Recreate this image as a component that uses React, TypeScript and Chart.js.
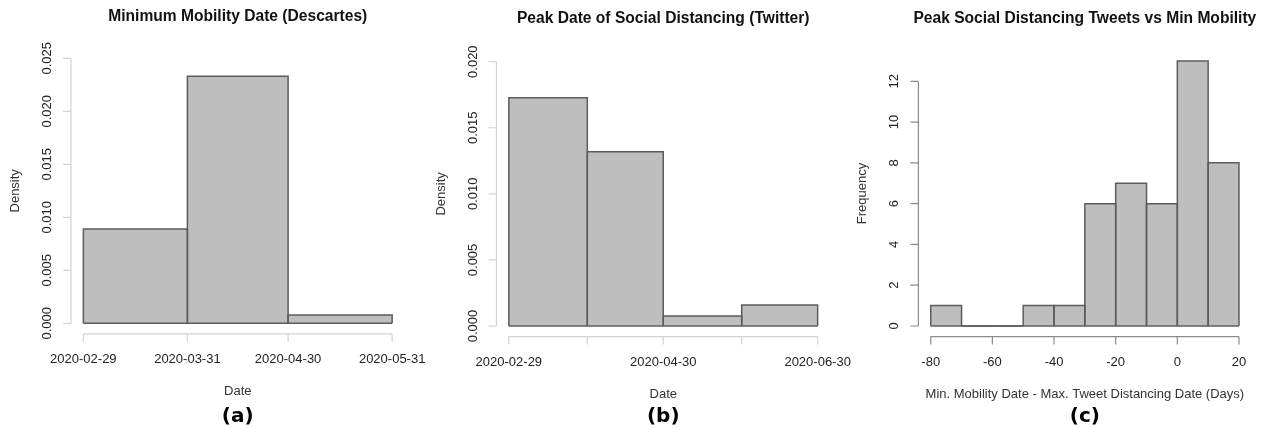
import { useEffect, useRef } from "react";
import { Chart, registerables } from "chart.js";

Chart.register(...registerables);

// ---------------- DATA ----------------
// (a) Minimum Mobility Date (Descartes) — histogram of dates, density
const aBinEdges = ["2020-02-29", "2020-03-31", "2020-04-30", "2020-05-31"];
const aDensity = [0.0089, 0.0233, 0.00078];
const aXTickLabels = ["2020-02-29", "2020-03-31", "2020-04-30", "2020-05-31"];
const aYTicks = [0, 0.005, 0.01, 0.015, 0.02, 0.025];
const aYTickLabels = ["0.000", "0.005", "0.010", "0.015", "0.020", "0.025"];

// (b) Peak Date of Social Distancing (Twitter) — density
const bBinEdges = ["2020-02-29", "2020-03-31", "2020-04-30", "2020-05-31", "2020-06-30"];
const bDensity = [0.01727, 0.01319, 0.00076, 0.00159];
const bXTickLabels = ["2020-02-29", "2020-04-30", "2020-06-30"];
const bYTicks = [0, 0.005, 0.01, 0.015, 0.02];
const bYTickLabels = ["0.000", "0.005", "0.010", "0.015", "0.020"];

// (c) Peak Social Distancing Tweets vs Min Mobility — frequency of day differences
const cBinEdges = [-80, -70, -60, -50, -40, -30, -20, -10, 0, 10, 20];
const cFrequency = [1, 0, 0, 1, 1, 6, 7, 6, 13, 8];
const cXTicks = [-80, -60, -40, -20, 0, 20];
const cXTickLabels = ["-80", "-60", "-40", "-20", "0", "20"];
const cYTicks = [0, 2, 4, 6, 8, 10, 12];
const cYTickLabels = ["0", "2", "4", "6", "8", "10", "12"];

// ---------------- HELPERS ----------------
const W = 1268;
const H = 429;
const DAY = 86400000;
const dayOf = (d: string) => (Date.parse(d + "T00:00:00Z") - Date.parse(aBinEdges[0] + "T00:00:00Z")) / DAY;

type Panel = {
  edges: number[];
  values: number[];
  yTop: number;
  xTickMarks: number[];
  xLabelTicks: number[];
  xLabels: string[];
  yTicks: number[];
  yLabels: string[];
  title: string;
  xTitle: string;
  yTitle: string;
  tag: string;
  area: { left: number; right: number; top: number; bottom: number };
  titleY: number;
  axisColor: string;
};

const FONT = "'Liberation Sans', Arial, Helvetica, sans-serif";
const BAR_FILL = "#bebebe";
const BAR_BORDER = "#5c5c5c";

function histDatasets(edges: number[], values: number[]) {
  const rects = values.map((v, i) => ({
    data: [
      { x: edges[i], y: 0 },
      { x: edges[i], y: v },
      { x: edges[i + 1], y: v },
      { x: edges[i + 1], y: 0 },
    ],
    fill: "origin",
    backgroundColor: BAR_FILL,
    borderColor: BAR_BORDER,
    borderWidth: 1.5,
    pointRadius: 0,
    tension: 0,
  }));
  const baseline = {
    data: [
      { x: edges[0], y: 0 },
      { x: edges[edges.length - 1], y: 0 },
    ],
    fill: false,
    borderColor: BAR_BORDER,
    borderWidth: 1.5,
    pointRadius: 0,
    tension: 0,
  };
  return [...rects, baseline];
}

function axesPlugin(p: Panel) {
  return {
    id: "rAxes",
    afterDraw(chart: any) {
      const ctx = chart.ctx as CanvasRenderingContext2D;
      const xs = chart.scales.x;
      const ys = chart.scales.y;
      const ca = chart.chartArea;
      ctx.save();
      // y axis
      ctx.strokeStyle = p.axisColor;
      ctx.lineWidth = 1.2;
      const yx = ca.left;
      ctx.beginPath();
      ctx.moveTo(yx, ys.getPixelForValue(p.yTicks[0]));
      ctx.lineTo(yx, ys.getPixelForValue(p.yTicks[p.yTicks.length - 1]));
      p.yTicks.forEach((t) => {
        const py = ys.getPixelForValue(t);
        ctx.moveTo(yx, py);
        ctx.lineTo(yx - 8, py);
      });
      // x axis
      const xy = ca.bottom;
      ctx.moveTo(xs.getPixelForValue(p.xTickMarks[0]), xy);
      ctx.lineTo(xs.getPixelForValue(p.xTickMarks[p.xTickMarks.length - 1]), xy);
      p.xTickMarks.forEach((t) => {
        const px = xs.getPixelForValue(t);
        ctx.moveTo(px, xy);
        ctx.lineTo(px, xy + 8);
      });
      ctx.stroke();

      // tick labels
      ctx.fillStyle = "#222";
      ctx.font = `13px ${FONT}`;
      ctx.textAlign = "center";
      ctx.textBaseline = "middle";
      p.yTicks.forEach((t, i) => {
        const py = ys.getPixelForValue(t);
        ctx.save();
        ctx.translate(yx - 23.5, py);
        ctx.rotate(-Math.PI / 2);
        ctx.fillText(p.yLabels[i], 0, 0);
        ctx.restore();
      });
      p.xLabelTicks.forEach((t, i) => {
        const px = xs.getPixelForValue(t);
        ctx.fillText(p.xLabels[i], px, xy + 25.5);
      });

      // axis titles
      ctx.fillStyle = "#333";
      const cx = (ca.left + ca.right) / 2;
      ctx.fillText(p.xTitle, cx, xy + 57.5);
      ctx.save();
      ctx.translate(yx - 55.5, (ca.top + ca.bottom) / 2);
      ctx.rotate(-Math.PI / 2);
      ctx.fillText(p.yTitle, 0, 0);
      ctx.restore();

      // main title
      ctx.fillStyle = "#111";
      ctx.font = `bold 15.6px ${FONT}`;
      ctx.fillText(p.title, cx, p.titleY);

      // panel tag
      ctx.fillStyle = "#000";
      ctx.font = "bold 20px 'DejaVu Sans', Verdana, sans-serif";
      ctx.fillText(p.tag, cx, 417);
      ctx.restore();
    },
  };
}

const aEdges = aBinEdges.map(dayOf);
const bEdges = bBinEdges.map(dayOf);

const panels: Panel[] = [
  {
    edges: aEdges,
    values: aDensity,
    yTop: 0.025,
    xTickMarks: aEdges,
    xLabelTicks: aXTickLabels.map(dayOf),
    xLabels: aXTickLabels,
    yTicks: aYTicks,
    yLabels: aYTickLabels,
    title: "Minimum Mobility Date (Descartes)",
    xTitle: "Date",
    yTitle: "Density",
    tag: "(a)",
    area: { left: 71, right: 404.5, top: 47.7, bottom: 333.9 },
    titleY: 16.5,
    axisColor: "#d4d4d4",
  },
  {
    edges: bEdges,
    values: bDensity,
    yTop: 0.02,
    xTickMarks: bEdges,
    xLabelTicks: bXTickLabels.map(dayOf),
    xLabels: bXTickLabels,
    yTicks: bYTicks,
    yLabels: bYTickLabels,
    title: "Peak Date of Social Distancing (Twitter)",
    xTitle: "Date",
    yTitle: "Density",
    tag: "(b)",
    area: { left: 496.5, right: 830, top: 51.1, bottom: 336.6 },
    titleY: 19,
    axisColor: "#d4d4d4",
  },
  {
    edges: cBinEdges,
    values: cFrequency,
    yTop: 13,
    xTickMarks: cXTicks,
    xLabelTicks: cXTicks,
    xLabels: cXTickLabels,
    yTicks: cYTicks,
    yLabels: cYTickLabels,
    title: "Peak Social Distancing Tweets vs Min Mobility",
    xTitle: "Min. Mobility Date - Max. Tweet Distancing Date (Days)",
    yTitle: "Frequency",
    tag: "(c)",
    area: { left: 918.4, right: 1251.3, top: 50.3, bottom: 336.6 },
    titleY: 19,
    axisColor: "#8c8c8c",
  },
];

function HistPanel({ p }: { p: Panel }) {
  const ref = useRef<HTMLCanvasElement>(null);
  useEffect(() => {
    if (!ref.current) return;
    const e0 = p.edges[0];
    const e1 = p.edges[p.edges.length - 1];
    const ext = (e1 - e0) * 0.04;
    const chart = new Chart(ref.current, {
      type: "line",
      data: { datasets: histDatasets(p.edges, p.values) as any },
      options: {
        animation: false,
        responsive: false,
        devicePixelRatio: 1,
        layout: {
          padding: {
            left: p.area.left,
            right: W - p.area.right,
            top: p.area.top,
            bottom: H - p.area.bottom,
          },
        },
        plugins: {
          legend: { display: false },
          title: { display: false },
          tooltip: { enabled: false },
          filler: { drawTime: "beforeDatasetsDraw" },
        } as any,
        scales: {
          x: { type: "linear", display: false, min: e0 - ext, max: e1 + ext },
          y: { type: "linear", display: false, min: -0.04 * p.yTop, max: 1.04 * p.yTop },
        },
      },
      plugins: [axesPlugin(p)],
    });
    return () => chart.destroy();
  }, [p]);
  return (
    <canvas
      ref={ref}
      width={W}
      height={H}
      style={{ position: "absolute", left: 0, top: 0, width: W, height: H }}
    />
  );
}

export default function App() {
  return (
    <div style={{ position: "absolute", left: 0, top: 0, width: W, height: H, background: "#fff" }}>
      {panels.map((p, i) => (
        <HistPanel key={i} p={p} />
      ))}
    </div>
  );
}
